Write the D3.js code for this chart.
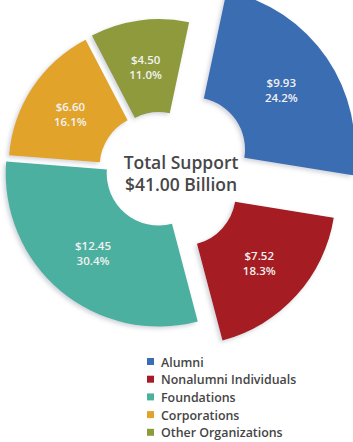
<!DOCTYPE html>
<html>
<head>
<meta charset="utf-8">
<script src="https://cdn.jsdelivr.net/npm/d3@7"></script>
<style>
  body { margin: 0; background: #fff; }
  svg { display: block; }
</style>
</head>
<body>
<script>
// giving by source, in billions of dollars
const categories = ['Alumni', 'Nonalumni Individuals', 'Foundations', 'Corporations', 'Other Organizations']
const amounts = [9.93, 7.52, 12.45, 6.60, 4.50]

// look of each slice (same order as categories)
const colors = ['#3a6db3', '#a51c24', '#4cb09f', '#e2a32b', '#8e9a3b']
const explode = [40, 32, 2, 10, 8]
const outerR = [162, 152, 153, 143, 145]

const width = 353
const height = 442
const cx = 160, cy = 172
const innerR = 52
const rot = 12 * Math.PI / 180

const total = d3.sum(amounts)
const fmtMoney = d3.format('$.2f')
const fmtPct = d3.format('.1%')

const svg = d3.select('body')
  .append('svg')
  .attr('width', width)
  .attr('height', height)

// soft shadow under the slices
const filter = svg.append('defs')
  .append('filter')
  .attr('id', 'shadow')
  .attr('x', '-20%').attr('y', '-20%')
  .attr('width', '140%').attr('height', '140%')
filter.append('feDropShadow')
  .attr('dx', -2)
  .attr('dy', 2)
  .attr('stdDeviation', 2)
  .attr('flood-color', '#8890a0')
  .attr('flood-opacity', 0.4)

const pie = d3.pie()
  .sort(null)
  .value(d => d)
  .startAngle(rot)
  .endAngle(rot + 2 * Math.PI)

const arc = d3.arc()
  .innerRadius(innerR)
  .outerRadius(d => outerR[d.index])

const arcs = pie(amounts)

const slices = svg.append('g')
  .attr('transform', `translate(${cx},${cy})`)
  .selectAll('g')
  .data(arcs)
  .join('g')
    .attr('transform', d => {
      let a = (d.startAngle + d.endAngle) / 2
      let e = explode[d.index]
      return `translate(${Math.sin(a) * e},${-Math.cos(a) * e})`
    })

slices.append('path')
  .attr('d', arc)
  .attr('fill', d => colors[d.index])
  .attr('filter', 'url(#shadow)')

const labels = slices.append('text')
  .attr('transform', d => `translate(${arc.centroid(d)})`)
  .attr('text-anchor', 'middle')
  .attr('fill', '#f2f2f2')
  .style('font-family', '"Open Sans", sans-serif')
  .style('font-weight', 600)
  .style('font-size', '11.5px')

labels.append('tspan')
  .attr('x', 0)
  .attr('y', -2)
  .text(d => fmtMoney(d.data))
labels.append('tspan')
  .attr('x', 0)
  .attr('y', 13)
  .text(d => fmtPct(d.data / total))

// centre caption
const caption = svg.append('text')
  .attr('text-anchor', 'middle')
  .attr('fill', '#474747')
  .style('font-family', '"Open Sans", sans-serif')
  .style('font-weight', 600)
  .style('font-size', '17.5px')
caption.append('tspan')
  .attr('x', 181)
  .attr('y', 169)
  .text('Total Support')
caption.append('tspan')
  .attr('x', 181)
  .attr('y', 191)
  .text(`${fmtMoney(total)} Billion`)

// legend
const legend = svg.append('g')
  .attr('transform', 'translate(147,362)')
  .selectAll('g')
  .data(categories)
  .join('g')
    .attr('transform', (d, i) => `translate(0,${i * 17.7})`)

legend.append('rect')
  .attr('x', 0)
  .attr('y', -4)
  .attr('width', 7)
  .attr('height', 7)
  .attr('fill', (d, i) => colors[i])

legend.append('text')
  .attr('x', 14)
  .attr('y', 4.5)
  .attr('fill', '#454545')
  .style('font-family', '"Open Sans", sans-serif')
  .style('font-weight', 600)
  .style('font-size', '12.4px')
  .text(d => d)
</script>
</body>
</html>
